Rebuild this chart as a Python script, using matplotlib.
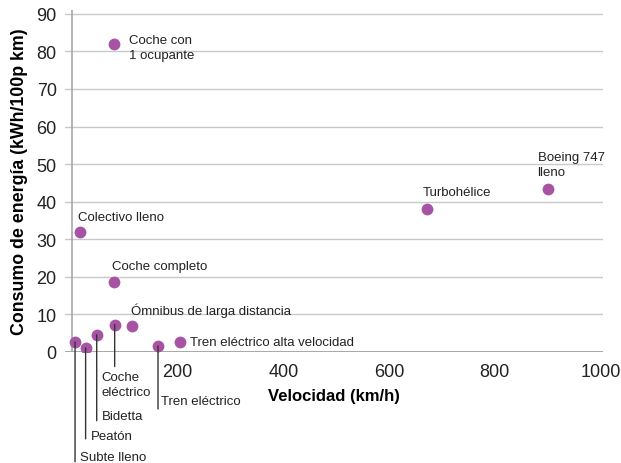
import matplotlib.pyplot as plt

plt.rcParams['font.family'] = ['Liberation Sans', 'DejaVu Sans']

# datos (velocidad km/h, consumo kWh/100p km)
nombres = ['Coche con\n1 ocupante', 'Colectivo lleno', 'Coche completo',
           'Ómnibus de larga distancia', 'Tren eléctrico alta velocidad',
           'Turbohélice', 'Boeing 747\nlleno',
           'Subte lleno', 'Peatón', 'Bidetta', 'Coche\neléctrico', 'Tren eléctrico']
velocidad = [80, 15, 80, 113, 204, 672, 900, 6, 26, 47, 81, 163]
consumo = [82, 32, 18.5, 7, 2.7, 38, 43.5, 2.7, 1.1, 4.6, 7.3, 1.6]

# posicion de cada etiqueta respecto del punto (pixeles): dx, dy, largo de linea guia
offsets = [(15, -4, 0), (-2, 15, 0), (-2, 16, 0), (-1, 16, 0), (10, 0, 0),
           (-4, 17, 0), (-10, 24, 0),
           (5, -115, 120), (5, -88, 91), (5, -81, 86), (-13, -60, 42), (3, -55, 63)]

morado = '#a653a3'
px = 72 / 100  # pixeles -> puntos

fig = plt.figure(figsize=(6.21, 4.64), dpi=100)
ax = fig.add_axes([65 / 621, 111 / 464, 538 / 621, 342 / 464])

for y in range(10, 100, 10):
    ax.axhline(y, color='#c9c9c9', lw=1, zorder=0)
ax.axhline(0, color='#9a9a9a', lw=1.2, zorder=1)
ax.plot([0, 0], [0, 91], color='#a0a0a0', lw=1.1, zorder=1)

ax.scatter(velocidad, consumo, s=72, color=morado, zorder=3, linewidths=0)

for nom, xv, yv, (dx, dy, largo) in zip(nombres, velocidad, consumo, offsets):
    if largo > 0:
        ax.annotate('', xy=(xv, yv), xytext=(0, -largo * px), textcoords='offset points',
                    arrowprops=dict(arrowstyle='-', color='#333333', lw=1,
                                    shrinkA=0, shrinkB=0), annotation_clip=False)
    ax.annotate(nom, xy=(xv, yv), xytext=(dx * px, dy * px), textcoords='offset points',
                ha='left', va='center', fontsize=9.5, color='#222222',
                linespacing=1.3, annotation_clip=False)

ax.set_xlim(-13, 1005)
ax.set_ylim(0, 91)
ax.set_xticks([200, 400, 600, 800, 1000])
ax.set_yticks(range(0, 100, 10))
ax.tick_params(length=0, labelsize=13, colors='#222222')
ax.tick_params(axis='x', pad=8)
ax.tick_params(axis='y', pad=6)
for s in ax.spines.values():
    s.set_visible(False)

ax.set_xlabel('Velocidad (km/h)', fontsize=12, fontweight='bold', labelpad=6)
ax.set_ylabel('Consumo de energía (kWh/100p km)', fontsize=12.8, fontweight='bold', labelpad=6)

plt.savefig('out.png', dpi=100)
